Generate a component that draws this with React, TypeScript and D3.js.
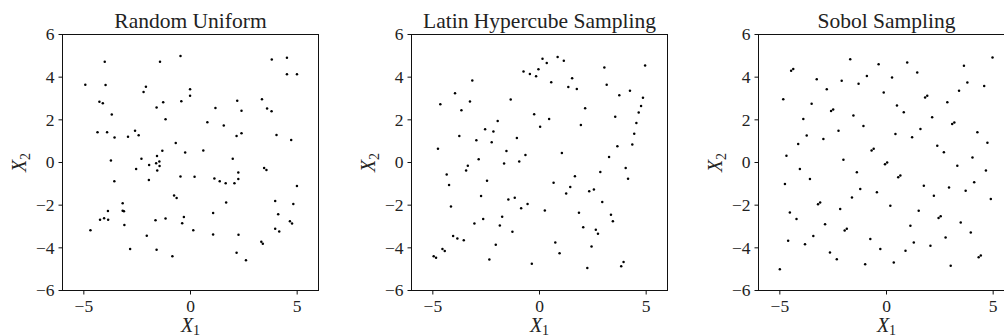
import React from "react";
import * as d3 from "d3";

type P = [number, number];

const panelTitles = ["Random Uniform", "Latin Hypercube Sampling", "Sobol Sampling"];
const xTicks = [-5, 0, 5];
const yTicks = [-6, -4, -2, 0, 2, 4, 6];

const uniformPoints: P[] = [
  [-4.93,3.65],[-4.02,4.72],[-3.98,3.63],[-4.27,2.85],[-4.11,2.78],[-3.69,2.25],[-4.36,1.42],[-3.91,1.42],[-3.56,1.17],[-2.93,1.21],
  [-2.60,1.49],[-2.43,1.28],[-2.30,0.17],[-2.55,-0.31],[-3.73,0.09],[-3.57,-0.88],[-2.09,3.55],[-2.20,3.30],[-1.43,4.72],[-0.47,4.99],
  [-1.59,2.58],[-1.28,2.83],[-1.17,2.03],[-0.02,3.43],[-0.02,3.13],[-0.43,2.87],[-0.69,0.91],[-0.25,0.47],[-1.32,0.55],[-1.57,0.31],
  [-1.61,-0.03],[-1.46,0.05],[-1.45,-0.16],[-1.56,-0.38],[-1.94,-0.12],[-1.95,-0.82],[-0.47,-0.66],[0.19,-0.67],[-0.77,-1.55],[-0.65,-1.66],
  [-0.31,-2.55],[-0.39,-2.85],[-1.17,-2.63],[-1.64,-2.71],[-1.59,-4.09],[-0.85,-4.40],[-2.05,-3.43],[-2.83,-4.06],[-3.18,-1.91],[-3.18,-2.26],
  [-3.12,-2.29],[-3.10,-2.93],[-3.87,-2.27],[-3.86,-2.68],[-4.05,-2.61],[-4.24,-2.68],[-4.69,-3.17],[0.13,-3.18],[1.06,-2.37],[1.06,-3.37],
  [1.12,-0.75],[1.37,-0.88],[1.65,-0.97],[2.06,-0.97],[2.24,-0.77],[2.24,-0.47],[1.98,0.18],[0.60,0.56],[0.79,1.89],[1.17,2.56],
  [1.56,1.73],[2.19,2.89],[2.39,2.43],[2.16,1.24],[2.39,1.37],[1.67,-1.88],[2.25,-3.39],[2.16,-4.23],[2.60,-4.58],[3.35,2.97],
  [3.59,2.53],[3.80,2.40],[3.81,4.83],[4.52,4.91],[4.52,4.14],[4.99,4.14],[4.03,1.29],[4.72,1.06],[3.45,-0.26],[3.56,-0.35],
  [4.99,-1.10],[3.97,-1.81],[4.11,-2.42],[4.82,-1.95],[4.66,-2.75],[4.76,-2.86],[3.97,-3.11],[4.16,-3.23],[3.32,-3.72],[3.39,-3.81],
];

const lhsPoints: P[] = [
  [-4.65,2.73],[-4.76,0.65],[-3.96,3.25],[-3.66,2.45],[-3.76,1.24],[-3.15,3.84],[-3.26,2.86],[-2.96,1.04],[-2.85,0.15],[-3.36,-0.15],
  [-3.44,-0.37],[-4.35,-0.56],[-4.24,-1.06],[-4.15,-2.06],[-4.05,-3.45],[-3.85,-3.56],[-3.55,-3.65],[-4.55,-4.06],[-4.44,-4.15],[-4.96,-4.39],
  [-4.85,-4.47],[-2.55,1.56],[-2.16,1.45],[-2.24,0.95],[-1.96,1.95],[-1.35,2.95],[-2.46,-0.85],[-2.74,-1.57],[-2.64,-2.65],[-3.05,-2.86],
  [-1.86,-2.95],[-1.75,-2.54],[-2.05,-3.86],[-2.35,-4.55],[-1.27,-3.25],[-1.46,-1.74],[-1.16,-1.65],[-0.86,-2.15],[-0.56,-1.95],[-1.55,0.54],
  [-1.66,-0.05],[-1.06,1.15],[-0.95,0.05],[-0.66,0.35],[-0.25,2.26],[0.03,1.67],[0.45,2.04],[-0.75,4.26],[-0.45,4.15],[-0.16,4.04],
  [-0.05,4.37],[0.14,4.86],[0.34,4.66],[0.85,4.95],[1.14,4.77],[0.55,3.76],[1.53,3.95],[1.35,3.54],[1.75,3.45],[2.14,2.54],
  [1.94,1.76],[1.05,0.45],[0.66,-0.95],[1.66,-0.65],[1.44,-1.15],[1.25,-1.45],[0.25,-2.25],[-0.36,-4.75],[0.74,-3.75],[0.94,-4.25],
  [1.85,-2.36],[2.05,-3.04],[2.44,-3.94],[2.24,-4.94],[2.33,-1.35],[2.55,-1.26],[2.64,-3.15],[2.74,-3.34],[2.94,-1.85],[2.85,-0.45],
  [3.26,0.26],[3.65,0.76],[3.55,2.15],[3.74,3.15],[3.04,4.45],[3.15,3.65],[3.35,-2.45],[3.44,-2.75],[3.83,-4.86],[3.94,-4.66],
  [4.04,-0.26],[4.15,-0.76],[4.35,0.84],[4.24,3.36],[4.44,1.35],[4.54,1.85],[4.65,2.34],[4.76,2.65],[4.85,3.04],[4.95,4.55],
];

const sobolPoints: P[] = [
  [-4.84,2.97],[-4.47,4.30],[-4.37,4.38],[-3.27,3.90],[-2.80,3.43],[-3.51,2.75],[-3.90,2.04],[-3.74,1.26],[-4.14,0.87],[-4.69,0.32],
  [-2.60,2.41],[-2.50,2.49],[-2.96,1.10],[-2.25,1.49],[-2.10,3.83],[-1.70,4.84],[-1.55,2.20],[-1.08,1.71],[-1.31,3.69],[-0.92,4.06],
  [-0.37,4.61],[-0.13,3.28],[0.26,3.98],[0.97,4.69],[1.44,4.22],[0.49,2.67],[0.81,2.36],[0.42,1.34],[1.20,1.18],[1.59,1.57],
  [2.14,2.12],[1.81,3.05],[1.91,3.13],[2.85,2.82],[3.40,3.36],[3.79,3.75],[3.63,4.53],[4.58,3.59],[4.97,4.92],[3.08,1.80],
  [3.18,1.88],[4.26,1.42],[4.73,0.93],[2.38,0.79],[2.69,0.48],[4.03,0.24],[-0.70,0.56],[-0.60,0.64],[-5.00,-5.00],[-4.76,-1.01],
  [-4.61,-3.67],[-4.53,-2.34],[-4.22,-2.65],[-4.06,-0.31],[-3.82,-3.83],[-3.59,-0.77],[-3.43,-3.44],[-3.21,-1.96],[-3.11,-1.88],[-2.88,-2.89],
  [-2.65,-4.22],[-2.33,-4.53],[-2.17,-2.18],[-1.96,-3.19],[-1.86,-3.11],[-1.62,-1.64],[-1.39,-0.46],[-1.23,-1.24],[-1.00,-4.77],[-0.76,-3.59],
  [-0.45,-1.40],[-0.29,-4.06],[-0.07,-0.08],[0.03,0.00],[0.18,-2.03],[0.34,-4.69],[0.55,-0.69],[0.65,-0.61],[0.89,-4.14],[1.12,-2.97],
  [1.28,-3.75],[1.51,-2.26],[1.75,-1.09],[2.06,-3.90],[2.22,-1.56],[2.44,-2.60],[2.54,-2.52],[2.77,-3.51],[2.93,-1.17],[3.01,-4.84],
  [3.32,-0.15],[3.48,-2.81],[3.71,-1.32],[3.95,-3.28],[4.11,-0.93],[4.32,-4.44],[4.42,-4.36],[4.66,-0.38],[4.89,-1.71],[-2.02,0.13],
];

const panelData: P[][] = [uniformPoints, lhsPoints, sobolPoints];

const W = 1004;
const H = 336;
const SIZE = 256;
const panelLeft = [62, 411, 758];
const panelTop = 34;
const serif = "'Liberation Serif', 'Times New Roman', serif";

function Panel({ left, title, points }: { left: number; title: string; points: P[] }) {
  const x = d3.scaleLinear().domain([-6, 6]).range([0, SIZE]);
  const y = d3.scaleLinear().domain([-6, 6]).range([SIZE, 0]);
  const fmt = (t: number) => (t < 0 ? "\u2212" + Math.abs(t) : String(t));
  return (
    <g transform={`translate(${left + 0.5},${panelTop + 0.5})`}>
      <text x={SIZE / 2} y={-7} textAnchor="middle" fontFamily={serif} fontSize={21.5} fill="#222">
        {title}
      </text>
      {points.map((p, i) => (
        <circle key={i} cx={x(p[0])} cy={y(p[1])} r={1.25} fill="#000" />
      ))}
      <rect x={0} y={0} width={SIZE} height={SIZE} fill="none" stroke="#111" strokeWidth={1} />
      {xTicks.map((t) => (
        <g key={"x" + t} transform={`translate(${x(t)},${SIZE})`}>
          <line y1={0} y2={4} stroke="#111" strokeWidth={1} />
          <text y={21} textAnchor="middle" fontFamily={serif} fontSize={17.5} fill="#222">
            {fmt(t)}
          </text>
        </g>
      ))}
      {yTicks.map((t) => (
        <g key={"y" + t} transform={`translate(0,${y(t)})`}>
          <line x1={0} x2={-4} stroke="#111" strokeWidth={1} />
          <text x={-8} dy="0.34em" textAnchor="end" fontFamily={serif} fontSize={17.5} fill="#222">
            {fmt(t)}
          </text>
        </g>
      ))}
      <text x={SIZE / 2} y={SIZE + 41} textAnchor="middle" fontFamily={serif} fontSize={20} fill="#222">
        <tspan fontStyle="italic">X</tspan>
        <tspan fontSize={14} dy={3}>1</tspan>
      </text>
      <text
        transform={`translate(-37,${SIZE / 2}) rotate(-90)`}
        textAnchor="middle"
        fontFamily={serif}
        fontSize={20}
        fill="#222"
      >
        <tspan fontStyle="italic">X</tspan>
        <tspan fontSize={14} dy={4}>2</tspan>
      </text>
    </g>
  );
}

export default function App() {
  return (
    <svg
      width={W}
      height={H}
      viewBox={`0 0 ${W} ${H}`}
      style={{ position: "absolute", left: 0, top: 0, background: "#fff" }}
    >
      <rect x={0} y={0} width={W} height={H} fill="#fff" />
      {panelData.map((pts, i) => (
        <Panel key={i} left={panelLeft[i]} title={panelTitles[i]} points={pts} />
      ))}
    </svg>
  );
}
